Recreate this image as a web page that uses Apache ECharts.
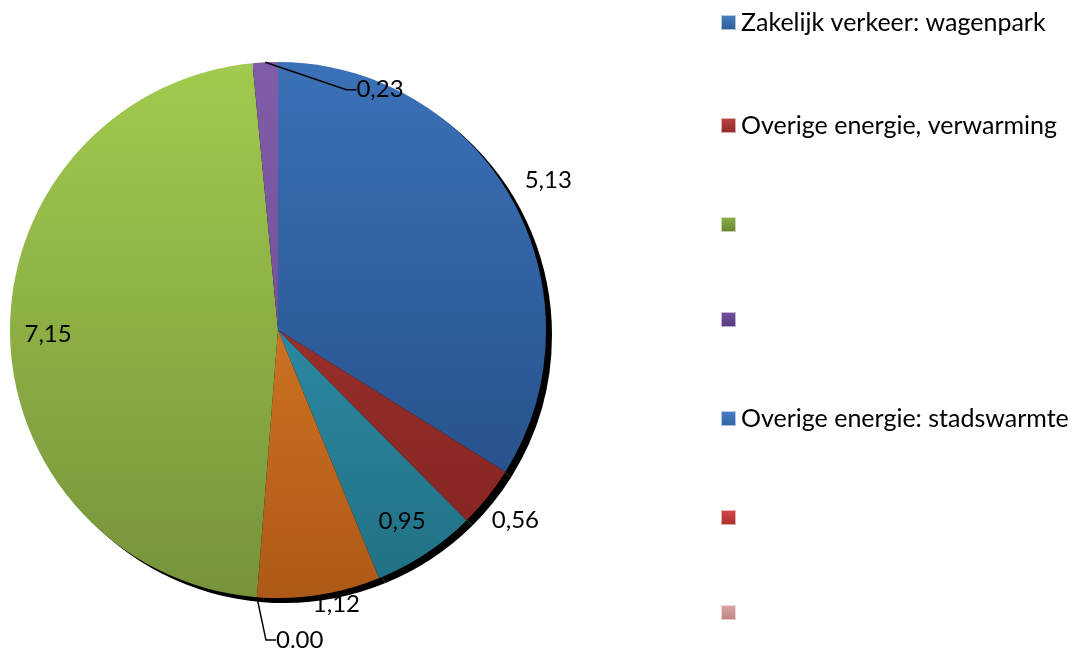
<!DOCTYPE html>
<html>
<head>
<meta charset="utf-8">
<script src="https://cdn.jsdelivr.net/npm/echarts@6/dist/echarts.min.js"></script>
<style>
html,body{margin:0;padding:0;background:#fff;}
#chart{width:1083px;height:650px;}
</style>
</head>
<body>
<div id="chart"></div>
<script>
// ---- data ----
const sliceNames = ['s1', 's2', 's3', 's4', 's5', 's6', 's7'];
const sliceValues = [5.13, 0.56, 0.95, 1.12, 0.00, 7.15, 0.23];
const sliceLabels = ['5,13', '0,56', '0,95', '1,12', '0.00', '7,15', '0,23'];
const legendNames = ['Zakelijk verkeer: wagenpark', 'Overige energie, verwarming', '', '', 'Overige energie: stadswarmte', '', ''];

// ---- styles ----
const sliceTop = ['#3b71b8', '#b23b37', '#36a2bf', '#ee8a2c', '#888888', '#a2ca4e', '#815ca8'];
const sliceBottom = ['#22497f', '#7f221f', '#216f83', '#ad5917', '#555555', '#76933a', '#6a4890'];
const legendTop = ['#4a80c2', '#be4542', '#8fb44c', '#7453a0', '#4a80c8', '#d44a48', '#e0a5a6'];
const legendBottom = ['#2c5a94', '#8e2a28', '#627f2e', '#563a7c', '#2f62a6', '#a82c2c', '#b98485'];
const labelAngleDeg = [null, null, 147, 168, 176, 269, 23];
const labelDistFactor = [1.153, 1.134, 0.85, 1.048, 1.16, 0.858, 0.974];
const labelWithLine = [false, false, false, false, true, false, true];

const CX = 278, CY = 330, R = 268;
const FONT = 'Lato, "Noto Sans", sans-serif';

const total = sliceValues.reduce((a, b) => a + b, 0);
const midAngle = [];
let acc = 0;
sliceValues.forEach(v => { midAngle.push((acc + v / 2) / total * 360); acc += v; });

function grad(top, bottom, global) {
  return global
    ? { type: 'linear', x: 0, y: CY - R, x2: 0, y2: CY + R, global: true,
        colorStops: [{ offset: 0, color: top }, { offset: 1, color: bottom }] }
    : { type: 'linear', x: 0, y: 0, x2: 0, y2: 1,
        colorStops: [{ offset: 0, color: top }, { offset: 1, color: bottom }] };
}

const mainData = sliceValues.map((v, i) => ({
  name: sliceNames[i],
  value: v,
  itemStyle: { color: grad(sliceTop[i], sliceBottom[i], true) },
  label: { show: true, position: 'outside', formatter: sliceLabels[i] },
  labelLine: { show: labelWithLine[i], showAbove: true, lineStyle: { color: '#000', width: 1.5 }, length: 10, length2: 10 }
}));

const shadowData = sliceValues.map((v, i) => ({ name: 'sh' + i, value: v }));

const legendIds = legendNames.map((n, i) => n === '' ? '\u200b'.repeat(i + 1) : n);
const legendData = legendIds.map((n, i) => ({
  name: n, value: 1,
  itemStyle: { color: grad(legendTop[i], legendBottom[i], false), borderColor: 'rgba(255,255,255,0.6)', borderWidth: 1 }
}));

const chart = echarts.init(document.getElementById('chart'), null, { renderer: 'canvas' });
chart.setOption({
  animation: false,
  backgroundColor: '#ffffff',
  legend: {
    orient: 'vertical',
    left: 720,
    top: 10,
    padding: 0,
    icon: 'rect',
    itemWidth: 15,
    itemHeight: 15,
    itemGap: 78,
    selectedMode: false,
    data: legendIds,
    formatter: n => n.replace(/\u200b/g, ''),
    textStyle: { fontFamily: FONT, fontSize: 25, color: '#000', lineHeight: 15 }
  },
  series: [
    {
      type: 'pie', silent: true, z: 1,
      center: [CX + 6, CY + 5], radius: R,
      startAngle: 90,
      label: { show: false }, labelLine: { show: false },
      itemStyle: { color: '#000' },
      data: shadowData
    },
    {
      type: 'pie', silent: true, z: 2,
      center: [CX, CY], radius: R,
      startAngle: 90,
      avoidLabelOverlap: false,
      label: { fontFamily: FONT, fontSize: 24, color: '#000' },
      labelLine: { show: false },
      labelLayout: function (p) {
        const i = p.dataIndex;
        const a = (labelAngleDeg[i] != null ? labelAngleDeg[i] : midAngle[i]) * Math.PI / 180;
        const d = labelDistFactor[i] * R;
        return { x: CX + d * Math.sin(a), y: CY - d * Math.cos(a), align: 'center', verticalAlign: 'middle' };
      },
      data: mainData
    },
    {
      type: 'pie', silent: true, z: 0,
      center: [CX, CY], radius: 0,
      label: { show: false }, labelLine: { show: false },
      data: legendData
    }
  ]
});
</script>
</body>
</html>
